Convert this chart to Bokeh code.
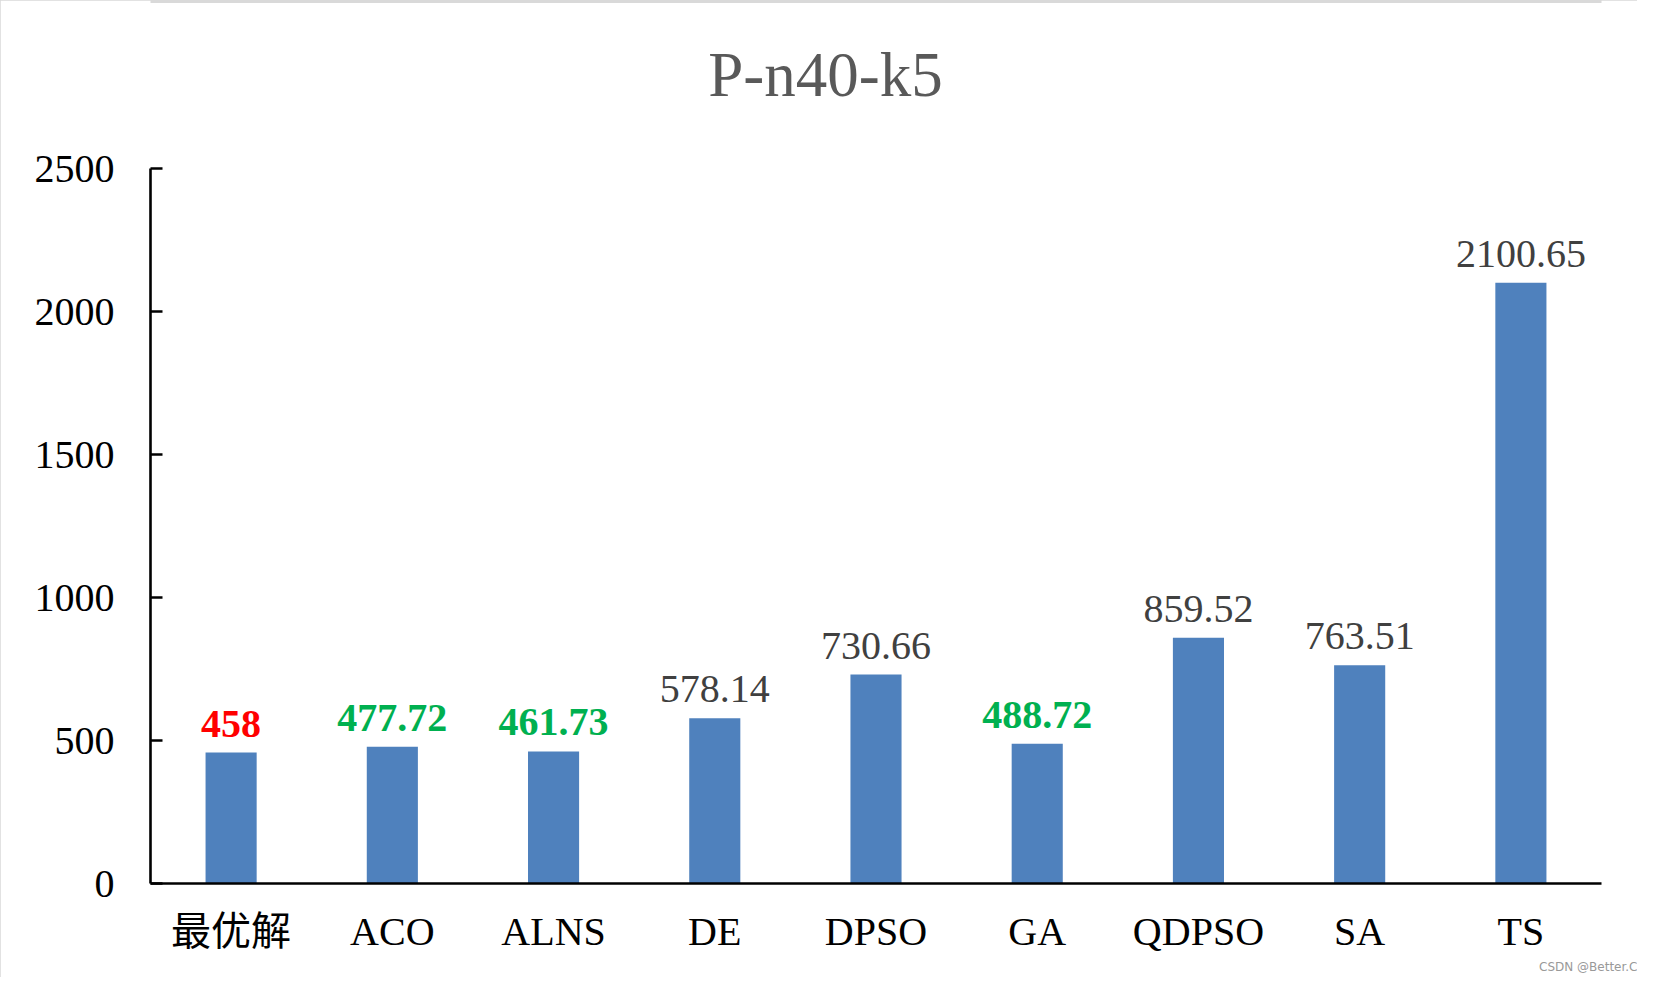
from bokeh.plotting import figure
from bokeh.models import Range1d, FactorRange, ColumnDataSource, Title, Label
from bokeh.core.properties import value, field
from bokeh.embed import file_html
from bokeh.resources import INLINE

# ---- data ----
categories = ["最优解", "ACO", "ALNS", "DE", "DPSO", "GA", "QDPSO", "SA", "TS"]
values = [458, 477.72, 461.73, 578.14, 730.66, 488.72, 859.52, 763.51, 2100.65]
value_labels = ["458", "477.72", "461.73", "578.14", "730.66", "488.72", "859.52", "763.51", "2100.65"]
label_colors = ["#FF0000", "#00B050", "#00B050", "#404040", "#404040", "#00B050", "#404040", "#404040", "#404040"]
label_styles = ["bold", "bold", "bold", "normal", "normal", "bold", "normal", "normal", "normal"]
y_ticks = [0, 500, 1000, 1500, 2000, 2500]
y_axis_max = 2500
title_text = "P-n40-k5"
watermark = "CSDN @Better.C"

SERIF = "Liberation Serif, Noto Sans CJK SC"

# frame spans the full top of the figure; the visible axis stops at y_axis_max
FRAME_H = 883          # px from figure top to x axis
AXIS_H = 715           # px used by 0..2500
y_top = y_axis_max * FRAME_H / AXIS_H

src = ColumnDataSource(dict(cats=categories, vals=values, labels=value_labels,
                            colors=label_colors, styles=label_styles))

p = figure(x_range=FactorRange(factors=categories), y_range=Range1d(0, y_top),
           width=1637, height=977, output_backend="svg", toolbar_location=None,
           min_border_left=150, min_border_right=36, min_border_top=0, min_border_bottom=94)
p.styles = {"outline": "3px solid #d9d9d9", "outline-offset": "-3px"}
p.background_fill_color = None
p.border_fill_color = "white"
p.outline_line_color = None
p.xgrid.visible = False
p.ygrid.visible = False
p.title.text = ""

p.vbar(x="cats", top="vals", width=0.317, bottom=0, source=src,
       fill_color="#4F81BD", line_color=None)

p.text(x="cats", y="vals", text="labels", source=src,
       text_align="center", text_baseline="alphabetic", y_offset=-29,
       text_color=field("colors"), text_font_style=field("styles"),
       text_font=value("Liberation Serif"), text_font_size=value("40px"))

# y axis
p.yaxis.ticker = y_ticks
p.yaxis.bounds = (0, y_axis_max)
p.yaxis.major_tick_in = 12
p.yaxis.major_tick_out = 0
p.yaxis.minor_tick_in = 0
p.yaxis.minor_tick_out = 0
p.yaxis.axis_line_width = 2.6
p.yaxis.axis_line_color = "black"
p.yaxis.major_tick_line_width = 2.6
p.yaxis.major_tick_line_color = "black"
p.yaxis.major_label_text_font = SERIF
p.yaxis.major_label_text_font_size = "40px"
p.yaxis.major_label_text_color = "black"
p.yaxis.major_label_standoff = 36

# x axis
p.xaxis.major_tick_in = 0
p.xaxis.major_tick_out = 0
p.xaxis.axis_line_width = 2.6
p.xaxis.axis_line_color = "black"
p.xaxis.major_label_text_font = SERIF
p.xaxis.major_label_text_font_size = "40px"
p.xaxis.major_label_text_color = "black"
p.xaxis.major_label_standoff = 25

# chart title (inside the tall frame, above the axis top)
p.add_layout(Label(x=675, y=809, x_units="screen", y_units="screen", text=title_text,
                   text_align="center", text_baseline="alphabetic",
                   text_font="Liberation Serif", text_font_size="63px", text_color="#595959"))

# watermark
wm = Title(text=watermark, align="right", offset=-36, standoff=3,
           text_font="DejaVu Sans", text_font_size="12px", text_font_style="normal",
           text_color="#999999")
p.add_layout(wm, "below")

open("out.html", "w").write(file_html(p, INLINE))
